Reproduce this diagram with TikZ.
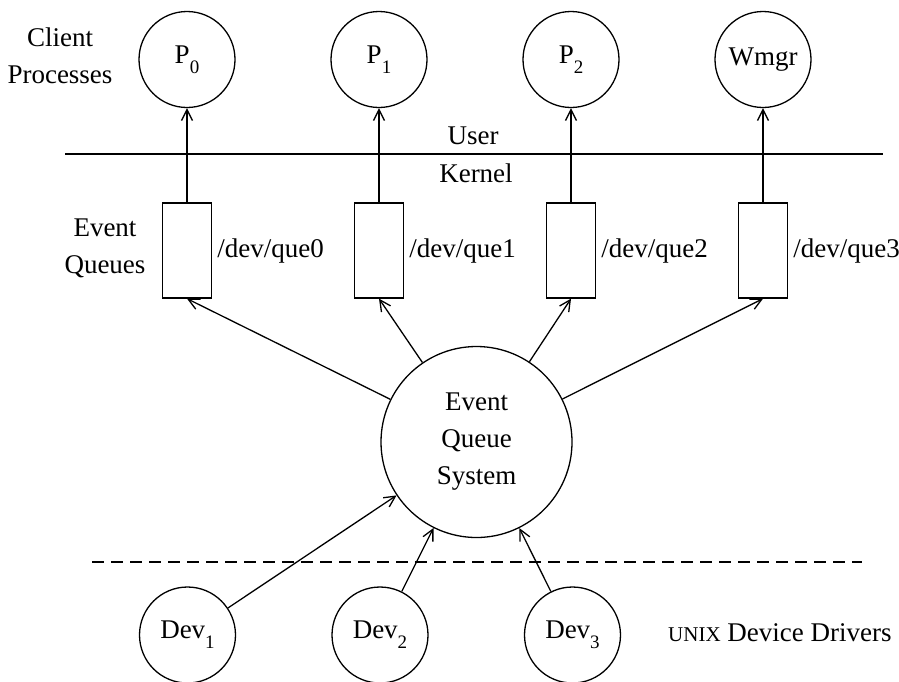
\documentclass[tikz,border=0pt]{standalone}
\usepackage{fontspec}
\setmainfont{Liberation Serif}
\usetikzlibrary{arrows.meta}
\newcommand\subsc[1]{\raisebox{-0.38em}{\fontsize{19}{19}\selectfont #1}}
\begin{document}
\begin{tikzpicture}[x=1pt,y=-1pt,
  every node/.style={font=\fontsize{27}{37}\selectfont},
  proc/.style={draw,circle,line width=1.3pt,minimum size=96pt,inner sep=0pt},
  queue/.style={draw,rectangle,line width=1.3pt,minimum width=49pt,minimum height=95pt,inner sep=0pt},
  lbl/.style={align=center,inner sep=0pt},
  conn/.style={line width=1.3pt,-{Straight Barb[length=11pt,width=11pt,line width=1.3pt]}},
  sep/.style={line width=1.2pt}]
\useasboundingbox (0,0) rectangle (899,681);
% client processes
\node[proc] (p0) at (187,59.5) {P\subsc{0}};
\node[proc] (p1) at (379,59.5) {P\subsc{1}};
\node[proc] (p2) at (571,59.5) {P\subsc{2}};
\node[proc] (wm) at (763,59.5) {Wmgr};
\node[lbl] (cp) at (60,56) {Client\\Processes};
% user/kernel
\coordinate (uk1) at (65,154);
\coordinate (uk2) at (883,154);
\draw[sep] (uk1) -- (uk2);
\node[inner sep=0pt] (user) at (473,136) {User};
\node[inner sep=0pt] (kern) at (476,173) {Kernel};
% queues
\node[queue] (q0) at (187,250.5) {};
\node[queue] (q1) at (379,250.5) {};
\node[queue] (q2) at (571,250.5) {};
\node[queue] (q3) at (763,250.5) {};
\node[lbl] (eq) at (105,248.5) {Event\\Queues};
\node[anchor=west,inner sep=0pt] (l0) at ([xshift=5pt]q0.east) {/dev/que0};
\node[anchor=west,inner sep=0pt] (l1) at ([xshift=5pt]q1.east) {/dev/que1};
\node[anchor=west,inner sep=0pt] (l2) at ([xshift=5pt]q2.east) {/dev/que2};
\node[anchor=west,inner sep=0pt] (l3) at ([xshift=5pt]q3.east) {/dev/que3};
\draw[conn] (q0) -- (p0);
\draw[conn] (q1) -- (p1);
\draw[conn] (q2) -- (p2);
\draw[conn] (q3) -- (wm);
% event queue system
\node[proc,minimum size=191pt,align=center] (eqs) at (476.5,442) {Event\\Queue\\System};
\draw[conn] (eqs) -- (q0.south);
\draw[conn] (eqs) -- (q1.south);
\draw[conn] (eqs) -- (q2.south);
\draw[conn] (eqs) -- (q3.south);
% dashed separator
\coordinate (d1) at (92,562);
\coordinate (d2) at (862,562);
\draw[sep,dash pattern=on 12pt off 7pt] (d1) -- (d2);
% devices
\node[proc] (dv1) at (187.5,635) {Dev\subsc{1}};
\node[proc] (dv2) at (380,635) {Dev\subsc{2}};
\node[proc] (dv3) at (572.5,635) {Dev\subsc{3}};
\draw[conn] (dv1) -- (eqs);
\draw[conn] (dv2) -- (eqs);
\draw[conn] (dv3) -- (eqs);
\node[anchor=west,inner sep=0pt] (udd) at (668,633) {{\fontsize{21}{21}\selectfont UNIX} Device Drivers};
\end{tikzpicture}
\end{document}
